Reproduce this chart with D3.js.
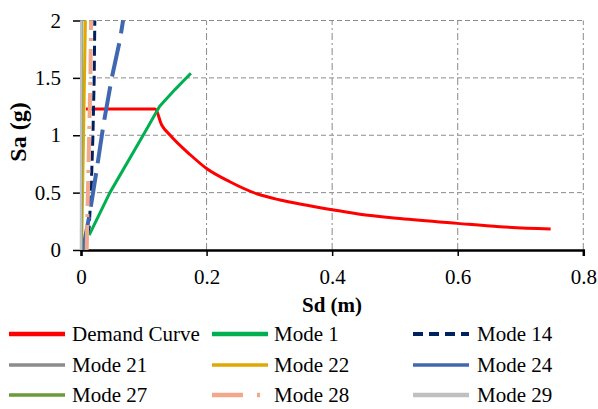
<!DOCTYPE html>
<html>
<head>
<meta charset="utf-8">
<script src="https://cdn.jsdelivr.net/npm/d3@7"></script>
</head>
<body style="margin:0; background:#fff">
<svg id="chart" width="598" height="409" style="display:block"></svg>
<script>
// values: [Sd (m), Sa (g)]
var demandCurve = [[0.008,1.228],[0.118,1.228],[0.1285,1.09],[0.142,1.0],[0.174,0.83],[0.2,0.71],[0.237,0.595],[0.28,0.49],[0.317,0.436],[0.36,0.39],[0.40,0.35],[0.444,0.312],[0.508,0.275],[0.6,0.232],[0.667,0.203],[0.748,0.183]];
var mode1  = [[0.013,0.13],[0.046,0.5],[0.099,1.0],[0.125,1.25],[0.15,1.4],[0.175,1.54]];
var mode14 = [[0.004,0.0],[0.013,0.2],[0.016,0.5],[0.019,1.0],[0.021,1.5],[0.022,2.0]];
var mode21 = [[0.0005,0.0],[0.0015,2.0]];
var mode22 = [[0.001,0.0],[0.007,2.0]];
var mode24 = [[0.003,0.0],[0.014,0.32],[0.025,0.7],[0.036,1.1],[0.049,1.5],[0.062,1.83],[0.067,2.0]];
var mode27 = [[0.001,0.0],[0.0015,2.0]];
var mode28 = [[0.009,0.0],[0.011,0.5],[0.013,1.0],[0.015,1.5],[0.016,2.0]];
var mode29 = [[0.0,0.0],[0.0005,2.0]];

var xTicks = [0, 0.2, 0.4, 0.6, 0.8];
var yTicks = [0, 0.5, 1, 1.5, 2];

var seriesNames = ["Demand Curve","Mode 1","Mode 14","Mode 21","Mode 22","Mode 24","Mode 27","Mode 28","Mode 29"];
var seriesData  = [demandCurve, mode1, mode14, mode21, mode22, mode24, mode27, mode28, mode29];

var FONT = "Liberation Serif";

// styles
var styles = [
  {color: "#ff0000", w: 3,   dash: null,          lw: 4.5, ldash: null},
  {color: "#00b050", w: 3,   dash: null,          lw: 4.5, ldash: null},
  {color: "#002060", w: 3,   dash: "10,5",        lw: 4,   ldash: "10,6"},
  {color: "#8c8c8c", w: 2.5, dash: null,          lw: 3.5, ldash: null},
  {color: "#e0a800", w: 3,   dash: null,          lw: 3.5, ldash: null},
  {color: "#4068b0", w: 4,   dash: "34,10",       lw: 3.5, ldash: null},
  {color: "#6a9a3a", w: 2.5, dash: null,          lw: 3.5, ldash: null},
  {color: "#f2a88a", w: 4,   dash: "25,8,3,8",    lw: 4.5, ldash: "31,14,3,14"},
  {color: "#c0c0c0", w: 2.5, dash: null,          lw: 4.5, ldash: null}
];

var svg = d3.select("#chart");

var x = d3.scaleLinear().domain([0, 0.8]).range([81, 583.3]);
var y = d3.scaleLinear().domain([0, 2]).range([250, 20.5]);

// gridlines
svg.append("g")
  .selectAll("line")
  .data(yTicks.filter(d => d > 0))
  .join("line")
    .attr("x1", x(0)).attr("x2", x(0.8))
    .attr("y1", d => y(d)).attr("y2", d => y(d))
    .attr("stroke", "#8a8a8a")
    .attr("stroke-width", 1)
    .attr("stroke-dasharray", "5,3");

svg.append("g")
  .selectAll("line")
  .data(xTicks.filter(d => d > 0))
  .join("line")
    .attr("x1", d => x(d)).attr("x2", d => x(d))
    .attr("y1", y(0)).attr("y2", y(2))
    .attr("stroke", "#8a8a8a")
    .attr("stroke-width", 1)
    .attr("stroke-dasharray", "7,3,2,3");

// x axis
var xAxis = svg.append("g")
  .attr("transform", `translate(0, ${y(0)})`)
  .call(d3.axisBottom(x).tickValues(xTicks).tickFormat(d3.format("")).tickSize(6).tickPadding(13));
xAxis.select(".domain").attr("stroke", "#000").attr("stroke-width", 2.5);
xAxis.selectAll(".tick line").attr("stroke", "#000").attr("stroke-width", 1.5);
xAxis.selectAll(".tick text")
  .attr("font-family", FONT)
  .attr("font-size", 21)
  .attr("fill", "#000");

// y axis (ticks only)
var yAxis = svg.append("g")
  .attr("transform", `translate(${x(0)}, 0)`)
  .call(d3.axisLeft(y).tickValues(yTicks).tickFormat(d3.format("")).tickSize(8).tickPadding(12));
yAxis.select(".domain").remove();
yAxis.selectAll(".tick line").attr("stroke", "#000").attr("stroke-width", 1.5);
yAxis.selectAll(".tick text")
  .attr("font-family", FONT)
  .attr("font-size", 21)
  .attr("fill", "#000");

// series
var line = d3.line()
  .x(d => x(d[0]))
  .y(d => y(d[1]));

svg.append("g")
  .selectAll("path")
  .data(seriesData)
  .join("path")
    .attr("d", (d, i) => i === 0 ? line.curve(d3.curveMonotoneX)(d) : line.curve(d3.curveLinear)(d))
    .attr("fill", "none")
    .attr("stroke", (d, i) => styles[i].color)
    .attr("stroke-width", (d, i) => styles[i].w)
    .attr("stroke-dasharray", (d, i) => styles[i].dash)
    .attr("stroke-linejoin", "round");

// axis titles
svg.append("text")
  .attr("x", 332)
  .attr("y", 312)
  .attr("text-anchor", "middle")
  .attr("font-family", FONT)
  .attr("font-weight", "bold")
  .attr("font-size", 21)
  .text("Sd (m)");

svg.append("text")
  .attr("transform", "translate(26, 132) rotate(-90)")
  .attr("text-anchor", "middle")
  .attr("font-family", FONT)
  .attr("font-weight", "bold")
  .attr("font-size", 24)
  .text("Sa (g)");

// legend
var colLine = [9, 212, 413],
    colText = [72, 274, 477],
    rowY = [334, 365, 395];

var legend = svg.append("g")
  .selectAll("g")
  .data(seriesNames)
  .join("g")
    .attr("transform", (d, i) => `translate(0, ${rowY[Math.floor(i / 3)]})`);

legend.append("line")
  .attr("x1", (d, i) => colLine[i % 3])
  .attr("x2", (d, i) => colLine[i % 3] + 56)
  .attr("y1", 0).attr("y2", 0)
  .attr("stroke", (d, i) => styles[i].color)
  .attr("stroke-width", (d, i) => styles[i].lw)
  .attr("stroke-dasharray", (d, i) => styles[i].ldash);

legend.append("text")
  .attr("x", (d, i) => colText[i % 3])
  .attr("y", 7)
  .attr("font-family", FONT)
  .attr("font-size", 21)
  .text(d => d);
</script>
</body>
</html>
